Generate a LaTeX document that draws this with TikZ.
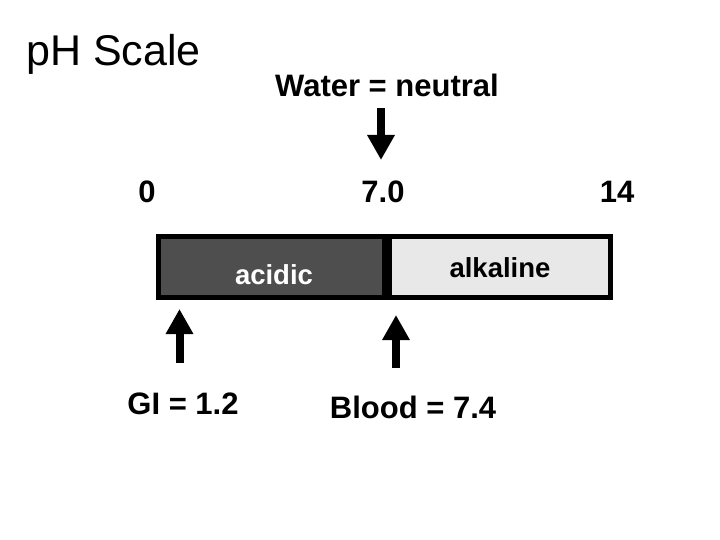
\documentclass[tikz,border=0pt]{standalone}
\usepackage{fontspec}
\setmainfont{Liberation Sans}
\usetikzlibrary{arrows.meta}
\definecolor{acidgray}{RGB}{78,78,78}
\definecolor{alkgray}{RGB}{232,232,232}
\tikzset{
  lbl/.style={inner sep=0pt, anchor=base, font=\fontsize{31}{36}\selectfont\bfseries},
  part/.style={draw, line width=5pt, inner sep=0pt, minimum width=226pt, minimum height=61pt},
  marker/.style={line width=8pt, -{Triangle[width=26pt,length=25pt]}}
}
\begin{document}
\begin{tikzpicture}[x=1pt,y=-1pt]
			\useasboundingbox (0,0) rectangle (720,540);
			\node [inner sep=0pt, anchor=base west, font=\fontsize{43}{49}\selectfont] (title) at (26,66) {pH Scale};
			\node [lbl] (water) at (387,97) {Water = neutral};
			\node [lbl] (zero) at (147,203) {0};
			\node [lbl] (seven) at (383,203) {7.0};
			\node [lbl] (fourteen) at (617,203) {14};
			\node [part, fill=acidgray] (acid) at (271.5,267) {};
			\node [part, fill=alkgray] (alk) at (497.5,267) {};
			\draw [line width=9pt] (acid.north east) -- (acid.south east);
			\node [lbl, font=\fontsize{27.5}{32}\selectfont\bfseries, text=white] (acidic) at (274,284) {acidic};
			\node [lbl, font=\fontsize{27.5}{32}\selectfont\bfseries] (alkaline) at (500,277) {alkaline};
			\node [lbl] (gi) at (183,414) {GI = 1.2};
			\node [lbl] (blood) at (413,418) {Blood = 7.4};
			\coordinate (wtail) at (381,108);
			\coordinate (wtip) at (381,160);
			\coordinate (gtail) at (179.5,363);
			\coordinate (gtip) at (179.5,309);
			\coordinate (btail) at (396,368);
			\coordinate (btip) at (396,315);
			\draw [marker] (wtail) -- (wtip);
			\draw [marker] (gtail) -- (gtip);
			\draw [marker] (btail) -- (btip);
		\end{tikzpicture}
\end{document}
